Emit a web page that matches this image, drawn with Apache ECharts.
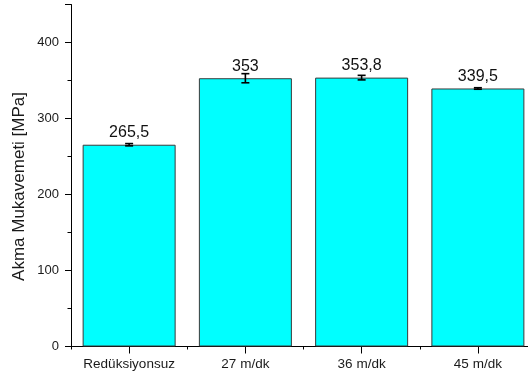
<!DOCTYPE html>
<html><head><meta charset="utf-8">
<script src="https://cdn.jsdelivr.net/npm/echarts@6/dist/echarts.min.js"></script>
<style>html,body{margin:0;padding:0;background:#fff}#c{width:528px;height:377px}</style>
</head><body><div id="c"></div>
<script>
var categories = ['Redüksiyonsuz', '27 m/dk', '36 m/dk', '45 m/dk'];
var values = [265.5, 353, 353.8, 339.5];
var errors = [1.5, 6, 3, 1];
var yTicks = [0, 100, 200, 300, 400];
var yTitle = 'Akma Mukavemeti [MPa]';

var chart = echarts.init(document.getElementById('c'), null, {renderer: 'canvas'});
var font = 'Liberation Sans, Arial, sans-serif';
chart.setOption({
  backgroundColor: '#ffffff',
  animation: false,
  grid: {left: 71, right: -8, top: 4.5, bottom: 30.5, containLabel: false, outerBoundsMode: 'none'},
  xAxis: [{
    type: 'category', data: categories, position: 'bottom',
    axisLine: {show: true, lineStyle: {color: '#000', width: 1}},
    axisTick: {show: true, alignWithLabel: true, length: 7, lineStyle: {color: '#000'}},
    axisLabel: {color: '#1a1a1a', fontSize: 13.5, fontFamily: font, margin: 11, interval: 0},
    splitLine: {show: false}
  }, {
    type: 'category', data: categories, position: 'bottom',
    axisLine: {show: false},
    axisTick: {show: true, alignWithLabel: false, interval: 0, length: 3, lineStyle: {color: '#000'}},
    axisLabel: {show: false},
    splitLine: {show: false}
  }],
  yAxis: {
    type: 'value', min: 0, max: 450, interval: 100,
    axisLine: {show: true, lineStyle: {color: '#000', width: 1}},
    axisTick: {show: true, length: 6, lineStyle: {color: '#000'}},
    minorTick: {show: true, splitNumber: 2, length: 3.5, lineStyle: {color: '#000'}},
    axisLabel: {color: '#1a1a1a', fontSize: 13, fontFamily: font, margin: 12,
      formatter: function (v) { return yTicks.indexOf(v) >= 0 ? String(v) : ''; }},
    splitLine: {show: false}
  },
  graphic: [{
    type: 'text', left: 11, top: 92, rotation: Math.PI / 2,
    style: {text: yTitle, fontSize: 17, fontFamily: font, fill: '#1a1a1a'}
  }],
  series: [{
    type: 'bar', data: values, barWidth: '80%', xAxisIndex: 0,
    itemStyle: {color: '#00ffff', borderColor: '#3a3a3a', borderWidth: 1},
    label: {show: true, position: 'top', distance: 4, color: '#111', fontSize: 16, fontFamily: font,
      formatter: function (p) { return String(p.value).replace('.', ','); }}
  }, {
    type: 'custom', xAxisIndex: 0,
    data: values.map(function (v, i) { return [i, v - errors[i], v + errors[i]]; }),
    renderItem: function (params, api) {
      var lo = api.coord([api.value(0), api.value(1)]);
      var hi = api.coord([api.value(0), api.value(2)]);
      var x = lo[0], hw = 4;
      var st = {stroke: '#000', lineWidth: 1.6};
      return {type: 'group', children: [
        {type: 'line', shape: {x1: x, y1: lo[1], x2: x, y2: hi[1]}, style: st},
        {type: 'line', shape: {x1: x - hw, y1: lo[1], x2: x + hw, y2: lo[1]}, style: st},
        {type: 'line', shape: {x1: x - hw, y1: hi[1], x2: x + hw, y2: hi[1]}, style: st}
      ]};
    },
    z: 10
  }]
});
</script></body></html>
